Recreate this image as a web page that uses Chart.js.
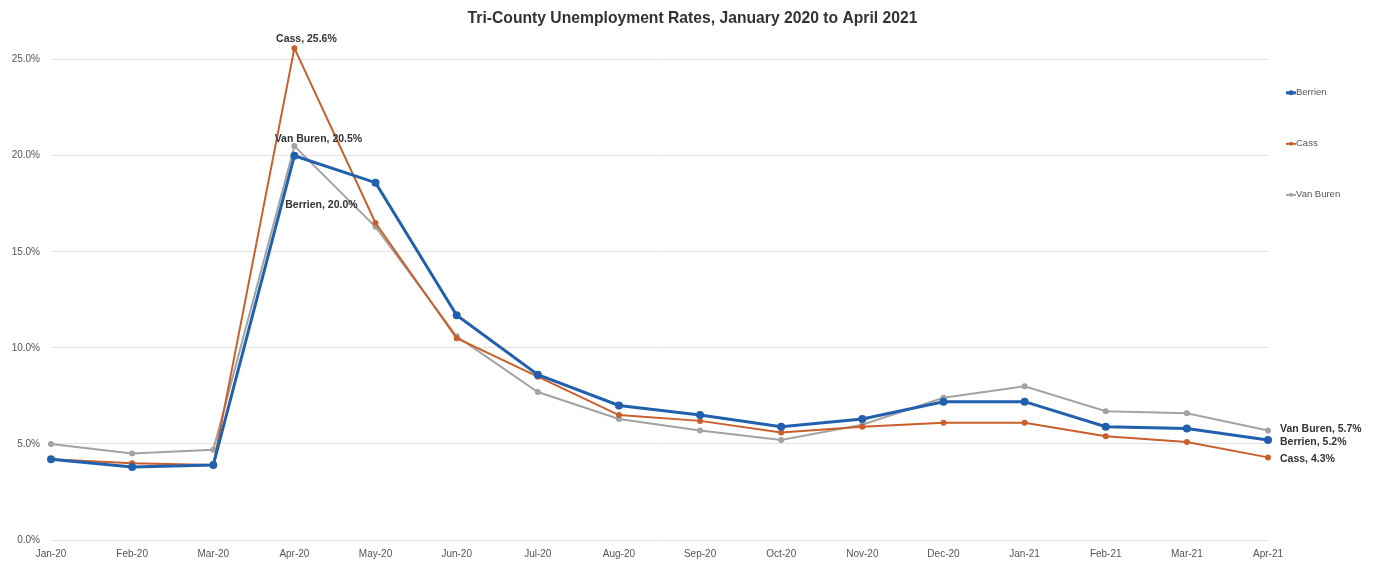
<!DOCTYPE html>
<html>
<head>
<meta charset="utf-8">
<script src="https://cdn.jsdelivr.net/npm/chart.js@4"></script>
<style>
  html, body { margin: 0; padding: 0; background: #fff; }
  #wrap { width: 1377px; height: 564px; }
</style>
</head>
<body>
<div id="wrap"><canvas id="myChart" width="1377" height="564"></canvas></div>
<script>
const months = ["Jan-20", "Feb-20", "Mar-20", "Apr-20", "May-20", "Jun-20", "Jul-20", "Aug-20",
    "Sep-20", "Oct-20", "Nov-20", "Dec-20", "Jan-21", "Feb-21", "Mar-21", "Apr-21"];
const berrien = [4.2, 3.8, 3.9, 20.0, 18.6, 11.7, 8.6, 7.0, 6.5, 5.9, 6.3, 7.2, 7.2, 5.9, 5.8, 5.2];
const cass = [4.2, 4.0, 3.9, 25.6, 16.5, 10.5, 8.5, 6.5, 6.2, 5.6, 5.9, 6.1, 6.1, 5.4, 5.1, 4.3];
const vanBuren = [5.0, 4.5, 4.7, 20.5, 16.3, 10.6, 7.7, 6.3, 5.7, 5.2, 6.0, 7.4, 8.0, 6.7, 6.6, 5.7];
const yTicks = [0, 5, 10, 15, 20, 25];

const FONT = "'Liberation Sans', Arial, sans-serif";

// labels drawn next to some points: [dataset, index, dx, dy, align]
const pointLabels = [
    [1, 3, 12, -9, "center"],
    [2, 3, 24, -7, "center"],
    [0, 3, 27, 49, "center"],
    [2, 15, 12, -1, "left"],
    [0, 15, 12, 2, "left"],
    [1, 15, 12, 2, "left"],
];

const labelPlugin = {
    id: "pointLabels",
    afterDatasetsDraw(chart) {
        const c = chart.ctx;
        c.save();
        c.font = "bold 10.5px " + FONT;
        c.fillStyle = "#333";
        c.textBaseline = "middle";
        pointLabels.forEach(([ds, i, dx, dy, align]) => {
            const pt = chart.getDatasetMeta(ds).data[i];
            const set = chart.data.datasets[ds];
            c.textAlign = align;
            c.fillText(set.label + ", " + set.data[i].toFixed(1) + "%", pt.x + dx, pt.y + dy);
        });
        c.restore();
    },
};

// excel-like legend: short line with a dot, to the right of the plot
const legendPlugin = {
    id: "sideLegend",
    afterDraw(chart) {
        const c = chart.ctx;
        const x0 = chart.chartArea.right + 18;
        c.save();
        c.font = "9.5px " + FONT;
        c.textBaseline = "middle";
        c.textAlign = "left";
        chart.data.datasets.forEach((set, i) => {
            const y = chart.chartArea.top + 62 + i * 51;
            c.strokeStyle = set.borderColor;
            c.lineWidth = set.borderWidth;
            c.beginPath();
            c.moveTo(x0, y);
            c.lineTo(x0 + 10, y);
            c.stroke();
            c.fillStyle = set.borderColor;
            c.beginPath();
            c.arc(x0 + 5, y, set.pointRadius, 0, Math.PI * 2);
            c.fill();
            c.fillStyle = "#555";
            c.fillText(set.label, x0 + 10, y);
        });
        c.restore();
    },
};

const ctx = document.getElementById("myChart");

new Chart(ctx, {
    type: "line",
    data: {
        labels: months,
        datasets: [
            {
                label: "Berrien",
                data: berrien,
                borderColor: "#2160ad",
                backgroundColor: "#2160ad",
                borderWidth: 3,
                pointRadius: 2.5,
            },
            {
                label: "Cass",
                data: cass,
                borderColor: "#c95f2b",
                backgroundColor: "#c95f2b",
                borderWidth: 2,
                pointRadius: 2,
            },
            {
                label: "Van Buren",
                data: vanBuren,
                borderColor: "#a3a3a3",
                backgroundColor: "#a3a3a3",
                borderWidth: 2,
                pointRadius: 2,
            },
        ],
    },
    options: {
        responsive: false,
        animation: false,
        layout: {
            padding: { left: 8, right: 0, bottom: 5 },
        },
        scales: {
            x: {
                offset: false,
                grid: { display: false, drawTicks: false },
                border: { display: false },
                ticks: {
                    color: "#555",
                    font: { size: 10, family: FONT },
                    maxRotation: 0,
                    autoSkip: false,
                    padding: 8,
                },
                afterFit: (scale) => {
                    scale.height = 19;
                },
            },
            y: {
                min: 0,
                max: 26.5,
                afterBuildTicks: (scale) => {
                    scale.ticks = yTicks.map((v) => ({ value: v }));
                },
                grid: { color: "#e2e2e2", drawTicks: false },
                border: { display: false },
                ticks: {
                    color: "#555",
                    padding: 11,
                    font: { size: 10, family: FONT },
                    callback: (v) => v.toFixed(1) + "%",
                },
                afterFit: (scale) => {
                    scale.width = 43;
                },
            },
            // empty axis that keeps room on the right for the legend
            side: {
                position: "right",
                grid: { display: false, drawTicks: false },
                border: { display: false },
                ticks: { display: false },
                afterFit: (scale) => {
                    scale.width = 109;
                },
            },
        },
        plugins: {
            title: {
                display: true,
                text: "Tri-County Unemployment Rates, January 2020 to April 2021",
                color: "#333",
                font: { size: 15.7, weight: "bold", family: FONT },
                padding: { top: 9, bottom: 3 },
            },
            legend: { display: false },
            tooltip: { enabled: false },
        },
    },
    plugins: [labelPlugin, legendPlugin],
});
</script>
</body>
</html>
